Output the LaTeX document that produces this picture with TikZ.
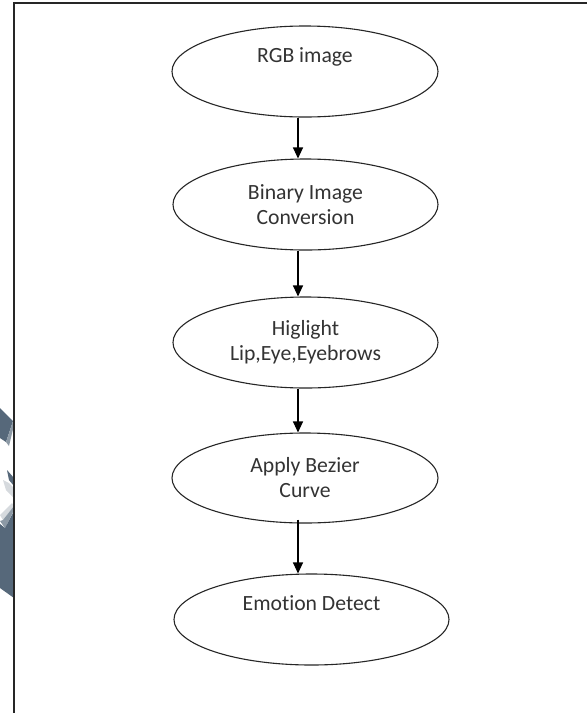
\documentclass[tikz,border=0pt]{standalone}
\usepackage{fontspec}
\setmainfont{Carlito}[Ligatures=NoCommon]
\usetikzlibrary{arrows.meta,shapes.geometric}
\definecolor{slate}{HTML}{56687A}
\definecolor{slatelt}{HTML}{8C99A5}
\definecolor{slatewh}{HTML}{D6DADE}
\tikzset{
  stage/.style={draw=black!85, line width=1.1pt, ellipse, inner sep=0pt,
    align=center, font=\fontsize{21.7}{25}\selectfont, text=black!80},
  arr/.style={draw=black, line width=1.1pt, -{Triangle[length=11pt,width=10pt]}},
  frameline/.style={draw=black!85, line width=1.4pt}
}
\begin{document}
\begin{tikzpicture}[x=1pt,y=-1pt]
\useasboundingbox (0,0) rectangle (587,713);
\fill[white] (0,0) rectangle (587,713);
% left-edge decorations
\fill[slate] (0,408) -- (13,421) -- (6,442) -- (0,438) -- cycle;
\fill[slatelt] (6,442) -- (13,421) -- (14,425) -- (9,446) -- cycle;
\fill[slate] (7,470) -- (14,478) -- (14,486) -- (9,480) -- cycle;
\fill[slatewh] (3,480) -- (9,483) -- (14,488) -- (14,498) -- (6,490) -- cycle;
\fill[slatewh] (0,515) -- (12,503) -- (14,506) -- (3,520) -- cycle;
\fill[slatelt] (0,521) -- (3,520) -- (14,506) -- (14,510) -- (5,528) -- cycle;
\fill[slate] (0,524) -- (5,528) -- (14,511) -- (14,598) -- (0,588) -- cycle;
% frame
\draw[frameline] (14,713) -- (14,3) -- (587,3);
% stages
\node[stage, minimum width=266pt, minimum height=91pt] (e1) at (305,71.5) {RGB image\\\strut};
\node[stage, minimum width=265pt, minimum height=91pt] (e2) at (305.5,204.5) {Binary Image\\Conversion};
\node[stage, minimum width=265pt, minimum height=91pt] (e3) at (305.5,342.5) {Higlight\\Lip,Eye,Eyebrows};
\node[stage, minimum width=266pt, minimum height=90pt] (e4) at (305,478) {Apply Bezier\\Curve};
\node[stage, minimum width=275pt, minimum height=91pt] (e5) at (311.5,619.5) {Emotion Detect\\\strut};
% connectors
\draw[arr] ([xshift=-7pt]e1.south) -- ([xshift=-7.5pt]e2.north);
\draw[arr] ([xshift=-7.5pt]e2.south) -- ([xshift=-7.5pt]e3.north);
\draw[arr] ([xshift=-7.5pt]e3.south) -- ([xshift=-7pt]e4.north);
\draw[arr] ([xshift=-7pt,yshift=4pt]e4.south) -- ([xshift=-13.5pt]e5.north);
\end{tikzpicture}
\end{document}
